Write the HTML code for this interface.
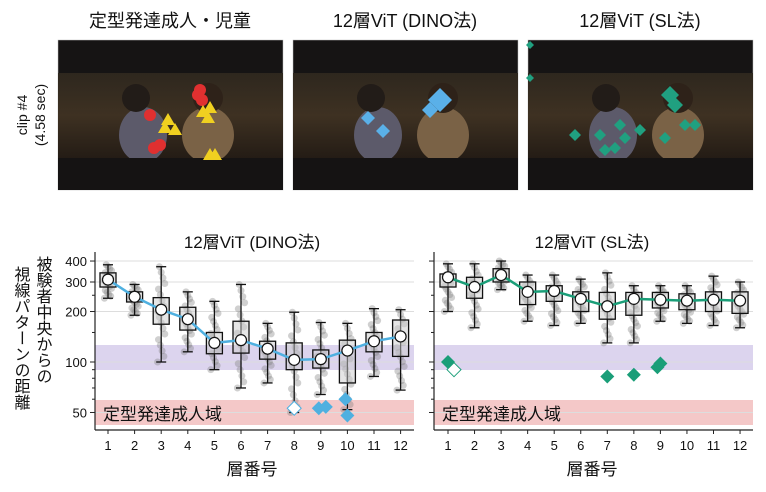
<!DOCTYPE html>
<html><head><meta charset="utf-8"><style>
body{margin:0;background:#fff;width:766px;height:487px;overflow:hidden}
svg text{font-family:"Liberation Sans","Noto Sans CJK JP",sans-serif;fill:#111}
</style></head><body>
<svg id="s" width="766" height="487" xmlns="http://www.w3.org/2000/svg">
<defs>
<linearGradient id="sc" x1="0" y1="0" x2="0" y2="1"><stop offset="0" stop-color="#2e271e"/><stop offset="0.5" stop-color="#3e3122"/><stop offset="1" stop-color="#241c15"/></linearGradient>
</defs>
<text x="170" y="27" font-size="18" text-anchor="middle">定型発達成人・児童</text>
<text x="405" y="27" font-size="18" text-anchor="middle">12層ViT (DINO法)</text>
<text x="640" y="27" font-size="18" text-anchor="middle">12層ViT (SL法)</text>
<text transform="translate(27,115) rotate(-90)" font-size="14" text-anchor="middle">clip #4</text>
<text transform="translate(45,115) rotate(-90)" font-size="14" text-anchor="middle">(4.58 sec)</text>
<g id="imgs"></g>
<text x="252" y="248" font-size="17" text-anchor="middle">12層ViT (DINO法)</text>
<text x="592" y="248" font-size="17" text-anchor="middle">12層ViT (SL法)</text>
<text x="252" y="475" font-size="17" text-anchor="middle">層番号</text>
<text x="592" y="475" font-size="17" text-anchor="middle">層番号</text>
<g font-size="16">
<text x="20" y="266" writing-mode="tb">視線パターンの距離</text>
<text x="42" y="256" writing-mode="tb">被験者中央からの</text>
</g>
<g id="p"></g>
</svg>
<script>
const NS="http://www.w3.org/2000/svg";
function el(t,a,parent,txt){const e=document.createElementNS(NS,t);for(const k in a)e.setAttribute(k,a[k]);if(txt!==undefined)e.textContent=txt;(parent||document.getElementById('p')).appendChild(e);return e;}
const im=document.getElementById('imgs');
[58,293,528].forEach((x,i)=>{
 el('rect',{x:x,y:40,width:225,height:150,fill:'#161414',stroke:'#bbb','stroke-width':0.5},im);
 el('rect',{x:x,y:73,width:225,height:85,fill:'url(#sc)'},im);
 el('ellipse',{cx:x+85,cy:135,rx:24,ry:28,fill:'#5c5a6a'},im);
 el('circle',{cx:x+78,cy:98,r:14,fill:'#221c18'},im);
 el('ellipse',{cx:x+150,cy:135,rx:26,ry:28,fill:'#7a6246'},im);
 el('circle',{cx:x+150,cy:98,r:15,fill:'#2e2219'},im);
 el('rect',{x:x,y:158,width:225,height:32,fill:'#151313'},im);
});
function dia(x,y,r,c,p){el('polygon',{points:`${x},${y-r} ${x+r},${y} ${x},${y+r} ${x-r},${y}`,fill:c},p);}
[[148,95],[152,100],[150,90],[100,115],[104,148],[110,145]].forEach(a=>el('circle',{cx:a[0]+50,cy:a[1]+0,r:6,fill:'#e03030'},im));
[[160,108],[153,112],[158,118],[118,120],[125,130],[115,128],[160,155],[165,155]].forEach(a=>el('polygon',{points:`${a[0]+50},${a[1]-7} ${a[0]+57},${a[1]+5} ${a[0]+43},${a[1]+5}`,fill:'#f0d020'},im));
[[440,100,12],[430,110,8],[368,118,7],[383,131,7]].forEach(a=>dia(a[0],a[1],a[2],'#5ab0e8',im));
[[670,95,9],[675,105,8],[620,125,6],[600,135,6],[625,138,6],[640,130,6],[615,148,6],[605,150,6],[665,138,6],[685,125,6],[695,125,6],[575,135,6],[530,45,4],[530,78,4]].forEach(a=>dia(a[0],a[1],a[2],'#20a080',im));
function Y(v){return 362-167.7*Math.log10(v/100);}
function chart(x0,x1,xL,dx,med,c,extra,labels){
 const P=document.getElementById('p');
 el('rect',{x:x0,y:345,width:x1-x0,height:25,fill:'#dcd4ee'});
 el('rect',{x:x0,y:400,width:x1-x0,height:25,fill:'#f4c8c8'});
 [400,300,200,100,50].forEach(v=>el('line',{x1:x0,x2:x1,y1:Y(v),y2:Y(v),stroke:'#ddd','stroke-width':1}));
 el('text',{x:x0+8,y:420,'font-size':17},P,'定型発達成人域');
 el('line',{x1:x0,x2:x0,y1:252,y2:430,stroke:'#222','stroke-width':1.2});
 el('line',{x1:x0,x2:x1,y1:430,y2:430,stroke:'#222','stroke-width':1.2});
 [400,300,200,100,50].forEach(v=>{el('line',{x1:x0-5,x2:x0,y1:Y(v),y2:Y(v),stroke:'#222'});if(labels)el('text',{x:x0-8,y:Y(v)+5,'font-size':13,'text-anchor':'end'},P,v);});
 [60,70,80,90,150,250].forEach(v=>el('line',{x1:x0-3,x2:x0,y1:Y(v),y2:Y(v),stroke:'#222'}));
 let pts=[];
 med.forEach((m,i)=>{
  const x=xL+i*dx;pts.push([x,Y(m[0])]);
  el('line',{x1:x,x2:x,y1:430,y2:434,stroke:'#222'});
  el('text',{x:x,y:450,'font-size':13,'text-anchor':'middle'},P,i+1);
  const [md,q1,q3,lo,hi]=m;
  for(let k=0;k<18;k++){const v=lo*Math.pow(hi/lo,((k*37)%18)/17);el('circle',{cx:x+((k*7)%9-4)*0.9,cy:Y(v),r:3.5,fill:'#777','fill-opacity':0.35});}
  el('line',{x1:x,x2:x,y1:Y(hi),y2:Y(lo),stroke:'#111','stroke-width':1.3});
  el('line',{x1:x-5,x2:x+5,y1:Y(hi),y2:Y(hi),stroke:'#111','stroke-width':1.3});
  el('line',{x1:x-5,x2:x+5,y1:Y(lo),y2:Y(lo),stroke:'#111','stroke-width':1.3});
  el('rect',{x:x-8,y:Y(q3),width:16,height:Y(q1)-Y(q3),fill:'#ccc','fill-opacity':0.5,stroke:'#111','stroke-width':1.3});
 });
 el('polyline',{points:pts.map(p=>p.join(',')).join(' '),fill:'none',stroke:c,'stroke-width':2.5});
 pts.forEach(p=>el('circle',{cx:p[0],cy:p[1],r:5.5,fill:'#fff',stroke:'#111','stroke-width':1.2}));
 extra.forEach(e=>{const x=xL+(e[0]-1)*dx+(e[2]||0);const y=Y(e[1]);el('polygon',{points:`${x},${y-7} ${x+7},${y} ${x},${y+7} ${x-7},${y}`,fill:e[3]?'#fff':c,stroke:e[3]?c:'none'});});
}
chart(95,414,108,26.6,[[310,280,340,240,380],[245,228,262,190,290],[205,168,242,100,370],[180,155,212,115,262],[130,112,150,90,230],[135,113,175,70,290],[120,104,133,75,170],[103,90,130,50,198],[104,92,118,64,172],[117,75,135,52,170],[133,115,150,82,208],[142,108,178,68,205]],'#4fb0e0',[[8,53,0,1],[9,53,-2],[9,54,5],[10,48],[10,60,-2]],true);
chart(434,753,448,26.55,[[320,280,335,200,385],[280,240,320,160,385],[330,300,360,270,400],[262,220,300,175,330],[265,230,285,165,330],[238,200,262,170,312],[215,180,260,130,340],[238,190,260,130,285],[235,210,260,175,285],[232,205,255,170,285],[235,200,262,165,325],[232,195,262,160,300]],'#1a9e78',[[1,100,0],[1,90,6,1],[7,82,0],[8,84,0],[9,93,-3],[9,98,0]],false);
</script>
</body></html>
